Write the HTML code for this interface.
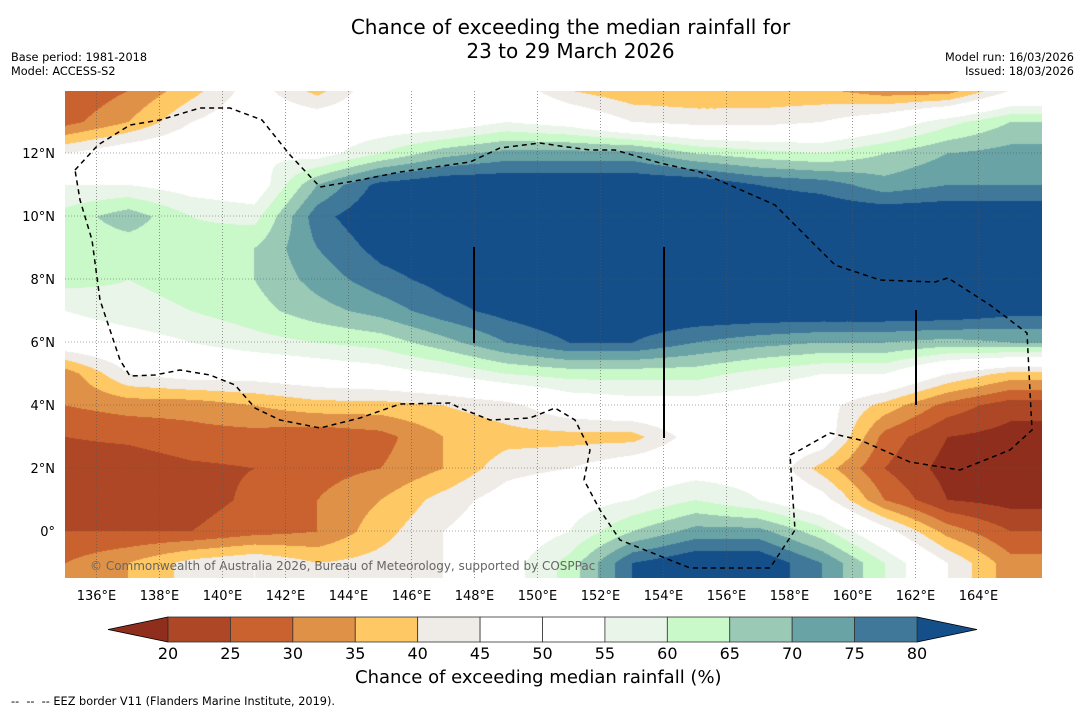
<!DOCTYPE html>
<html><head><meta charset="utf-8"><style>
body{margin:0;background:#fff;width:1085px;height:713px;overflow:hidden;position:relative;font-family:"DejaVu Sans","Liberation Sans",sans-serif;}
.t{position:absolute;white-space:nowrap;color:#000}
</style></head><body>
<div class="t" style="left:0;width:1141px;top:15px;text-align:center;font-size:20px;line-height:24px">Chance of exceeding the median rainfall for<br>23 to 29 March 2026</div>
<div class="t" style="left:11px;top:51px;font-size:11.3px;line-height:14px">Base period: 1981-2018<br>Model: ACCESS-S2</div>
<div class="t" style="right:11px;top:51px;font-size:11.3px;line-height:14px;text-align:right">Model run: 16/03/2026<br>Issued: 18/03/2026</div>
<svg id="svg" width="1085" height="713" style="position:absolute;left:0;top:0"></svg>
<div class="t" style="left:355px;top:667px;font-size:18px">Chance of exceeding median rainfall (%)</div>
<div class="t" style="left:11px;top:695px;font-size:11.3px">-- &nbsp;-- &nbsp;-- EEZ border V11 (Flanders Marine Institute, 2019).</div>
<script>
const lons=[135,137,139,141,143,145,147,149,151,153,155,157,159,161,163,165];
const lats=[14,13,12,11,10,9,8,7,6,5,4,3,2,1,0,-1];
const grid=[
[25,30,38,48,38,50,50,50,40,36,36,36,36,32,32,45],
[28,35,45,50,50,50,50,55,52,45,43,43,45,50,58,65],
[45,50,52,55,52,60,68,72,72,72,65,62,60,65,70,72],
[55,55,52,50,70,82,85,85,85,85,85,80,78,72,75,75],
[62,68,60,58,78,85,85,85,85,85,85,85,85,85,85,85],
[62,62,62,65,75,82,85,85,85,85,85,85,85,85,85,85],
[62,60,62,65,72,78,82,85,85,85,85,85,85,85,85,85],
[55,58,60,63,68,72,78,82,85,85,85,85,85,85,85,82],
[50,52,55,58,60,62,68,75,80,80,75,72,70,70,68,70],
[32,45,48,48,50,52,55,60,62,62,62,58,55,55,45,38],
[30,32,32,35,38,38,40,43,50,52,52,50,48,38,28,22],
[25,26,28,28,26,28,35,38,38,38,48,52,50,28,20,18],
[22,22,24,25,28,30,35,43,45,50,52,52,38,25,18,17],
[22,22,23,26,30,35,42,48,52,55,60,55,48,30,20,18],
[25,25,25,28,30,38,45,50,55,65,72,72,62,48,33,25],
[30,35,42,45,40,42,45,52,62,80,85,85,75,60,45,32]];
const levels=[20,25,30,35,40,45,50,55,60,65,70,75,80];
const colors=['#8f2e1d','#ad4726','#c9622f','#df9247','#fec864','#efebe6','#ffffff','#ffffff','#e9f5e8','#c9f8c9','#9acab6','#6aa3a6','#40789a','#154f8a'];
const tickLons=[136,138,140,142,144,146,148,150,152,154,156,158,160,162,164];
const tickLats=[12,10,8,6,4,2,0];
const X0=65,X1=1042,Y0=91,Y1=578;
const xs=lon=>X0+(lon-135)*31.5, ys=lat=>531-lat*31.5;
const NS='http://www.w3.org/2000/svg';
const svg=document.getElementById('svg');
function el(t,a){const e=document.createElementNS(NS,t);for(const k in a)e.setAttribute(k,a[k]);svg.appendChild(e);return e;}
function val(lon,lat){
 let fi=(lon-135)/2, fj=14-lat;
 fi=Math.max(0,Math.min(15,fi)); fj=Math.max(0,Math.min(15,fj));
 const i=Math.min(14,Math.floor(fi)), j=Math.min(14,Math.floor(fj));
 const a=fi-i,b=fj-j;
 return grid[j][i]*(1-a)*(1-b)+grid[j][i+1]*a*(1-b)+grid[j+1][i]*(1-a)*b+grid[j+1][i+1]*a*b;
}
function cidx(v){let k=0;while(k<levels.length&&v>=levels[k])k++;return k;}
const fo=el('foreignObject',{x:X0,y:Y0,width:X1-X0,height:Y1-Y0});


const cv=document.createElement('canvas');cv.width=X1-X0;cv.height=Y1-Y0;


fo.appendChild(cv);
const ctx=cv.getContext('2d');
const img=ctx.createImageData(cv.width,cv.height);
const rgb=colors.map(c=>[1,3,5].map(p=>parseInt(c.substr(p,2),16)));
for(let py=0;py<cv.height;py++){const lat=(531-(py+Y0))/31.5;
 for(let px=0;px<cv.width;px++){const lon=135+(px+X0-65)/31.5;
  const c=rgb[cidx(val(lon,lat))];const o=(py*cv.width+px)*4;
  img.data[o]=c[0];img.data[o+1]=c[1];img.data[o+2]=c[2];img.data[o+3]=255;}}
ctx.putImageData(img,0,0);
tickLons.forEach(l=>{const x=xs(l);
 const g=el('line',{x1:x,x2:x,y1:Y0,y2:Y1,stroke:'#555','stroke-width':0.6,'stroke-dasharray':'1,2'});
 
 const t=el('text',{x:x,y:600,'font-size':13,'text-anchor':'middle','font-family':'DejaVu Sans, sans-serif'});t.textContent=l+'°E';
 });
tickLats.forEach(l=>{const y=ys(l);
 const g=el('line',{x1:X0,x2:X1,y1:y,y2:y,stroke:'#555','stroke-width':0.6,'stroke-dasharray':'1,2'});
 
 const t=el('text',{x:55,y:y+5,'font-size':13,'text-anchor':'end','font-family':'DejaVu Sans, sans-serif'});t.textContent=l===0?'0°':l+'°N';
 });
const pts=[[75,170],[98,145],[130,125],[160,120],[200,108],[230,108],[262,120],[290,155],[320,187],[360,180],[400,172],[470,162],[500,148],[540,143],[560,146],[590,150],[615,150],[660,163],[700,172],[775,205],[800,230],[835,265],[880,280],[935,282],[948,278],[990,305],[1027,333],[1032,430],[1010,450],[960,470],[910,462],[860,440],[830,433],[800,450],[790,455],[795,530],[770,568],[690,568],[620,540],[600,510],[584,480],[590,450],[575,420],[555,408],[530,418],[490,420],[460,408],[450,403],[400,404],[360,418],[320,428],[280,420],[255,408],[235,385],[210,375],[180,370],[155,375],[130,376],[120,360],[100,300],[92,240],[80,200],[75,170]];
const e=el('polyline',{points:pts.map(p=>p.join(',')).join(' '),fill:'none',stroke:'#000','stroke-width':1.5,'stroke-dasharray':'5,4'});

[[474,247,343],[664,247,438],[916,310,405]].forEach(v=>{const l=el('line',{x1:v[0],x2:v[0],y1:v[1],y2:v[2],stroke:'#000','stroke-width':2});
 });
const cp=el('text',{x:90,y:570,'font-size':12,fill:'#666','font-family':'DejaVu Sans, sans-serif'});cp.textContent='© Commonwealth of Australia 2026, Bureau of Meteorology, supported by COSPPac';

const cx=v=>168+(v-20)*(917-168)/60, cy0=617, cy1=642;
const tl=el('polygon',{points:`108,${(cy0+cy1)/2} ${cx(20)},${cy0} ${cx(20)},${cy1}`,fill:colors[0],stroke:'#000','stroke-width':0.8});

const tr=el('polygon',{points:`977,${(cy0+cy1)/2} ${cx(80)},${cy0} ${cx(80)},${cy1}`,fill:colors[13],stroke:'#000','stroke-width':0.8});

for(let k=0;k<levels.length-1;k++){
 const r=el('rect',{x:cx(levels[k]),y:cy0,width:cx(levels[k+1])-cx(levels[k]),height:cy1-cy0,fill:colors[k+1],stroke:'#333','stroke-width':0.8});
 }
levels.forEach(v=>{const t=el('text',{x:cx(v),y:659,'font-size':16,'text-anchor':'middle','font-family':'DejaVu Sans, sans-serif'});t.textContent=v;
 });
</script>
</body></html>
